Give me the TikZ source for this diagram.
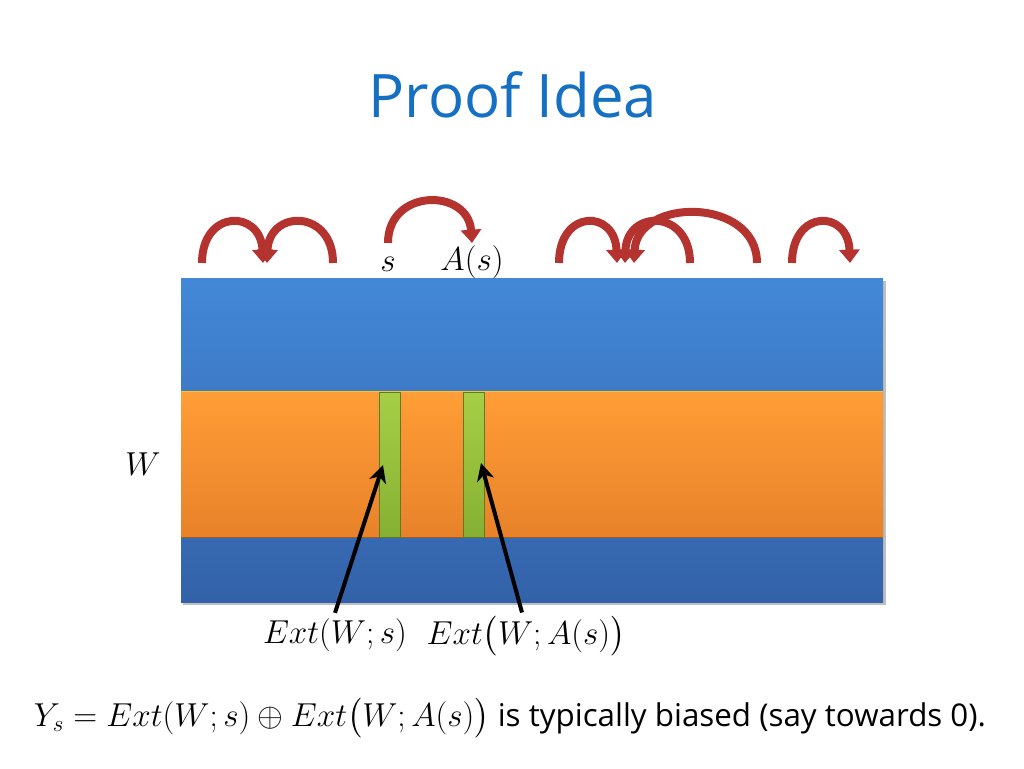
\documentclass[tikz,border=0pt]{standalone}
\usepackage[no-math]{fontspec}
\setmainfont{Open Sans}
\usepackage{amsmath}
\usetikzlibrary{arrows.meta,calc}
\definecolor{titleblue}{HTML}{1570C4}
\definecolor{arcred}{HTML}{B5332F}
\definecolor{topblue}{HTML}{4388D8}
\definecolor{botblue}{HTML}{3362A8}
\definecolor{orangetop}{HTML}{FF9D36}
\definecolor{orangebot}{HTML}{E8822A}
\definecolor{greentop}{HTML}{A6CF47}
\definecolor{greenbot}{HTML}{86B032}
\tikzset{
  redarc/.style={draw=arcred, line width=6pt,
    -{Triangle[width=15pt,length=10pt]}},
  blackarrow/.style={draw=black, line width=3pt,
    -{Stealth[width=13pt,length=13pt,inset=4pt]}},
  greenbar/.style={draw=greenbot!70!black, line width=0.4pt,
    top color=greentop, bottom color=greenbot, minimum width=21*0.75pt,
    minimum height=145*0.75pt, inner sep=0pt},
  mathlbl/.style={font=\fontsize{23}{27}\selectfont, inner sep=1pt},
}
\begin{document}
\begin{tikzpicture}[x=0.75pt,y=-0.75pt]
\useasboundingbox (0,0) rectangle (1024,768);
% title
\node[font=\fontsize{45}{52}\selectfont, text=titleblue] (title) at (513,95) {Proof Idea};
% main block
\fill[black!25] (183,281) rectangle (886,605);
\node[draw=none, top color=topblue, bottom color=botblue, minimum width=702*0.75pt,
  minimum height=324*0.75pt, inner sep=0pt] (block) at (532,440) {};
\node[draw=none, top color=orangetop, bottom color=orangebot, minimum width=702*0.75pt,
  minimum height=145*0.75pt, inner sep=0pt] (band) at (532,464.5) {};
\draw[orangetop!60!yellow, line width=1pt] (band.north west) -- (band.north east);
\draw[orangebot!70!black, line width=0.6pt] (band.south west) -- (band.south east);
% green bars
\node[greenbar] (g1) at (389.5,464.5) {};
\node[greenbar] (g2) at (473.5,464.5) {};
% labels
\node[mathlbl, font=\fontsize{24}{28}\selectfont] (W) at (143,464) {$W$};
\node[mathlbl] (e1) at (335,635) {$Ext(W;s)$};
\node[mathlbl] (e2) at (526,636) {$Ext\bigl(W;A(s)\bigr)$};
\coordinate (t1) at (383,465);
\coordinate (t2) at (481,463);
\draw[blackarrow] ($(e1.north)+(0,-4)$) -- (t1);
\draw[blackarrow] ($(e2.north)+(-4,-2)$) -- (t2);
% top labels
\node[mathlbl] (s) at (388,264) {$s$};
\node[mathlbl] (As) at (472,262) {$A(s)$};
% arc end points
\coordinate (a1s) at (202,263); \coordinate (a1e) at (263,263);
\coordinate (a2s) at (333,263); \coordinate (a2e) at (267,263);
\coordinate (a4s) at (559,263); \coordinate (a4e) at (617,263);
\coordinate (a5s) at (690,263); \coordinate (a5e) at (625,263);
\coordinate (a6s) at (757,263); \coordinate (a6e) at (634,263);
\coordinate (a7s) at (792,263); \coordinate (a7e) at (850,263);
\coordinate (a3s) at (388,243); \coordinate (a3e) at (472,243);
% arcs
\draw[redarc] (a1s) .. controls +(0,-54) and +(-2,-54) .. (a1e);
\draw[redarc] (a2s) .. controls +(0,-54) and +(2,-54) .. (a2e);
\draw[redarc] (a3s) .. controls +(0,-55) and +(-4,-55) .. (a3e);
\draw[redarc] (a4s) .. controls +(0,-54) and +(-2,-54) .. (a4e);
\draw[redarc] (a5s) .. controls +(0,-54) and +(2,-54) .. (a5e);
\draw[redarc] (a6s) .. controls +(0,-66) and +(3,-66) .. (a6e);
\draw[redarc] (a7s) .. controls +(0,-54) and +(-2,-54) .. (a7e);
% bottom statement
\node[font=\fontsize{23.5}{28}\selectfont, inner sep=0pt] (stmt) at (510,718)
  {$Y_s = Ext(W;s)\oplus Ext\bigl(W;A(s)\bigr)$ is typically biased (say towards 0).};
\end{tikzpicture}
\end{document}
